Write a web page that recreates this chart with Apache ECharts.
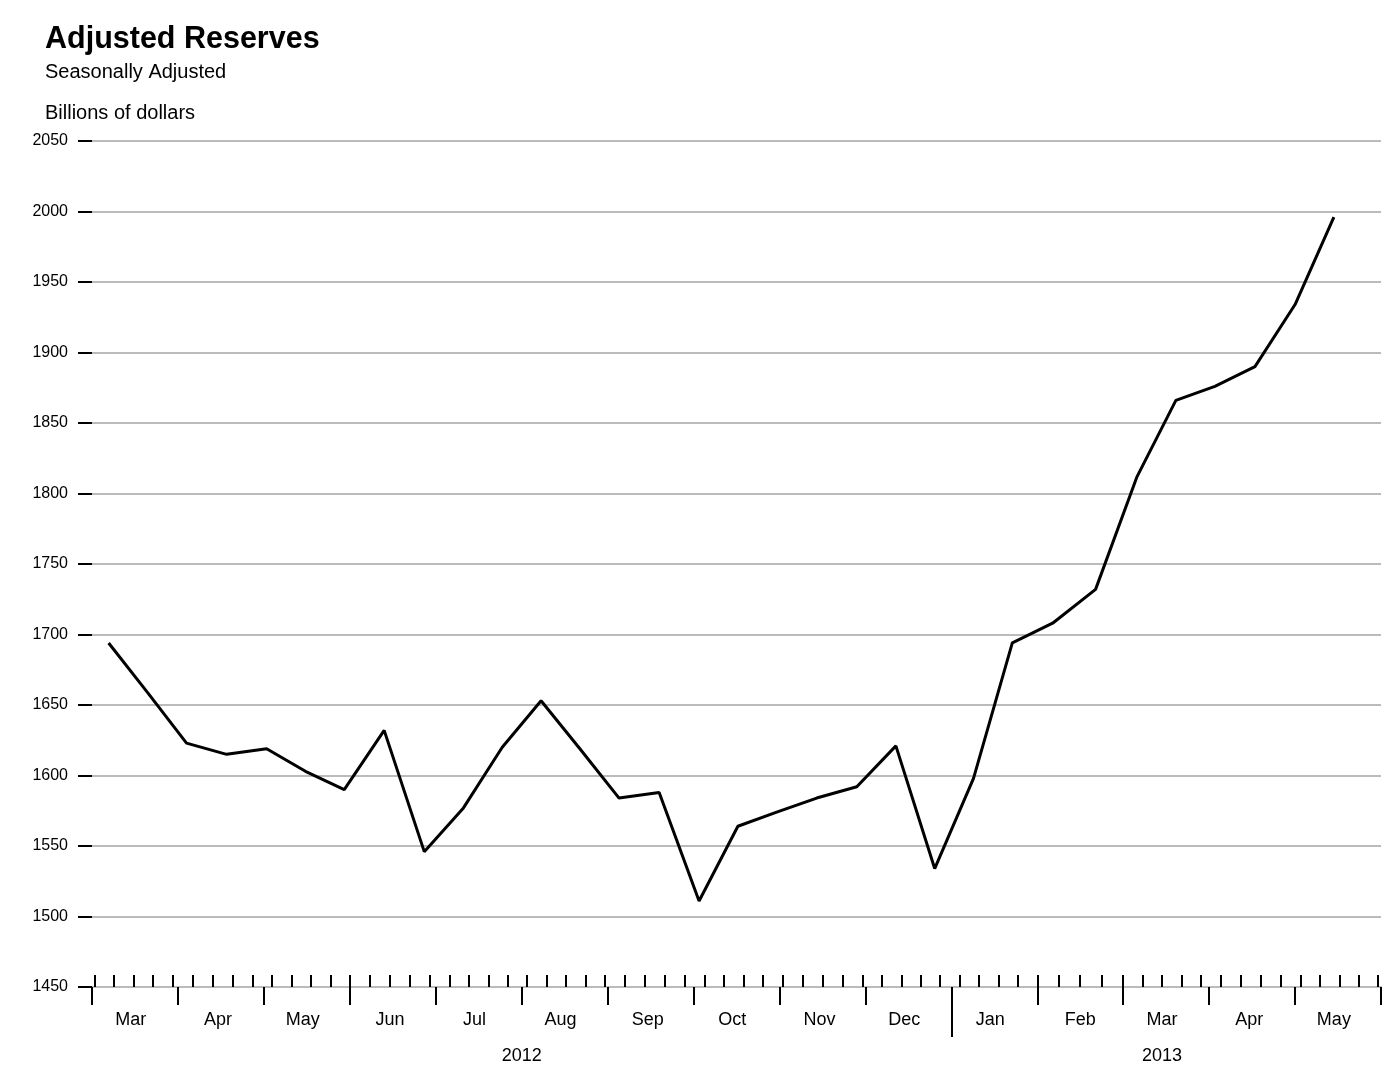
<!DOCTYPE html>
<html>
<head>
<meta charset="utf-8">
<script src="https://cdn.jsdelivr.net/npm/echarts@6/dist/echarts.min.js"></script>
<style>
html,body{margin:0;padding:0;background:#fff;}
#chart{width:1398px;height:1088px;}
</style>
</head>
<body>
<div id="chart"></div>
<script>
// ---- data (biweekly, billions of dollars) ----
const dates = [
  '2012-03-07','2012-03-21','2012-04-04','2012-04-18','2012-05-02','2012-05-16','2012-05-30',
  '2012-06-13','2012-06-27','2012-07-11','2012-07-25','2012-08-08','2012-08-22','2012-09-05',
  '2012-09-19','2012-10-03','2012-10-17','2012-10-31','2012-11-14','2012-11-28','2012-12-12',
  '2012-12-26','2013-01-09','2013-01-23','2013-02-06','2013-02-20','2013-03-06','2013-03-20',
  '2013-04-03','2013-04-17','2013-05-01','2013-05-15'
];
const values = [
  1694, 1659, 1623, 1615, 1619, 1603, 1590,
  1632, 1546, 1577, 1620, 1653, 1619, 1584,
  1588, 1511, 1564, 1574, 1584, 1592, 1621,
  1534, 1598, 1694, 1708, 1732, 1812, 1866,
  1876, 1890, 1934, 1996
];
const monthLabels = ['Mar','Apr','May','Jun','Jul','Aug','Sep','Oct','Nov','Dec','Jan','Feb','Mar','Apr','May'];
const monthLabelDates = ['2012-03-15','2012-04-15','2012-05-15','2012-06-15','2012-07-15','2012-08-15',
  '2012-09-15','2012-10-15','2012-11-15','2012-12-15','2013-01-15','2013-02-15','2013-03-15',
  '2013-04-15','2013-05-15'];
const yearLabels = ['2012','2013'];
const yearLabelDates = ['2012-08-01','2013-03-15'];
const yearBoundaries = ['2013-01-01'];
const weekTickStart = '2012-03-02';
const weekTickEnd = '2013-05-31';
const yMin = 1450, yMax = 2050, yStep = 50;

const FONT = "'Liberation Sans', Arial, sans-serif";

// month-index position: each month occupies one equal unit
function pos(s) {
  const [y, m, d] = s.split('-').map(Number);
  const idx = (y - 2012) * 12 + (m - 3);
  const dim = new Date(y, m, 0).getDate();
  return idx + (d - 1) / dim;
}
function fmt(dt) {
  const p = n => String(n).padStart(2, '0');
  return dt.getUTCFullYear() + '-' + p(dt.getUTCMonth() + 1) + '-' + p(dt.getUTCDate());
}
const weekTicks = [];
for (let t = Date.parse(weekTickStart + 'T00:00:00Z'); t <= Date.parse(weekTickEnd + 'T00:00:00Z'); t += 7 * 86400000) {
  weekTicks.push(pos(fmt(new Date(t))));
}
const monthPos = monthLabelDates.map(pos);
const yearPos = yearLabelDates.map(pos);
const seriesData = values.map((v, i) => [pos(dates[i]), v]);

function nearestIndex(arr, v) {
  let best = 0;
  arr.forEach((a, i) => { if (Math.abs(a - v) < Math.abs(arr[best] - v)) best = i; });
  return best;
}

const chart = echarts.init(document.getElementById('chart'), null, {renderer: 'canvas'});
chart.setOption({
  animation: false,
  backgroundColor: '#ffffff',
  title: [
    {text: 'Adjusted Reserves', left: 45, top: 24, padding: 0,
     textStyle: {fontSize: 30.5, fontWeight: 'bold', color: '#000', fontFamily: FONT}},
    {text: 'Seasonally Adjusted', left: 45, top: 62, padding: 0,
     textStyle: {fontSize: 20, fontWeight: 'normal', color: '#000', fontFamily: FONT}},
    {text: 'Billions of dollars', left: 45, top: 103, padding: 0,
     textStyle: {fontSize: 20, fontWeight: 'normal', color: '#000', fontFamily: FONT}}
  ],
  grid: {left: 92, right: 17, top: 141, bottom: 101, containLabel: false},
  xAxis: [
    {
      type: 'value', min: 0, max: monthLabels.length, interval: 1, position: 'bottom',
      axisLine: {show: true, lineStyle: {color: '#bbbbbb', width: 2}},
      axisTick: {show: true, inside: false, length: 18, lineStyle: {color: '#000', width: 2}},
      axisLabel: {show: true, customValues: monthPos, formatter: v => monthLabels[nearestIndex(monthPos, v)],
        fontSize: 18, color: '#000', fontFamily: FONT, margin: 24},
      splitLine: {show: false}
    },
    {
      type: 'value', min: 0, max: monthLabels.length, position: 'bottom',
      axisLine: {show: false},
      axisTick: {show: true, inside: true, length: 12, customValues: weekTicks, lineStyle: {color: '#000', width: 2}},
      axisLabel: {show: false},
      splitLine: {show: false}
    },
    {
      type: 'value', min: 0, max: monthLabels.length, position: 'bottom',
      axisLine: {show: false},
      axisTick: {show: true, inside: false, length: 50, customValues: yearBoundaries.map(pos), lineStyle: {color: '#000', width: 2}},
      axisLabel: {show: true, customValues: yearPos,
        formatter: v => yearLabels[nearestIndex(yearPos, v)],
        fontSize: 18, color: '#000', fontFamily: FONT, margin: 60},
      splitLine: {show: false}
    }
  ],
  yAxis: {
    type: 'value', min: yMin, max: yMax, interval: yStep,
    axisLine: {show: false},
    axisTick: {show: true, length: 14, lineStyle: {color: '#000', width: 2}},
    axisLabel: {fontSize: 16, color: '#000', fontFamily: FONT, margin: 24, formatter: v => String(v)},
    splitLine: {show: true, lineStyle: {color: '#bbbbbb', width: 2}}
  },
  series: [{
    type: 'line', xAxisIndex: 0, yAxisIndex: 0,
    data: seriesData, showSymbol: false, symbol: 'none',
    lineStyle: {color: '#000', width: 3}, z: 5
  }]
});
</script>
</body>
</html>
